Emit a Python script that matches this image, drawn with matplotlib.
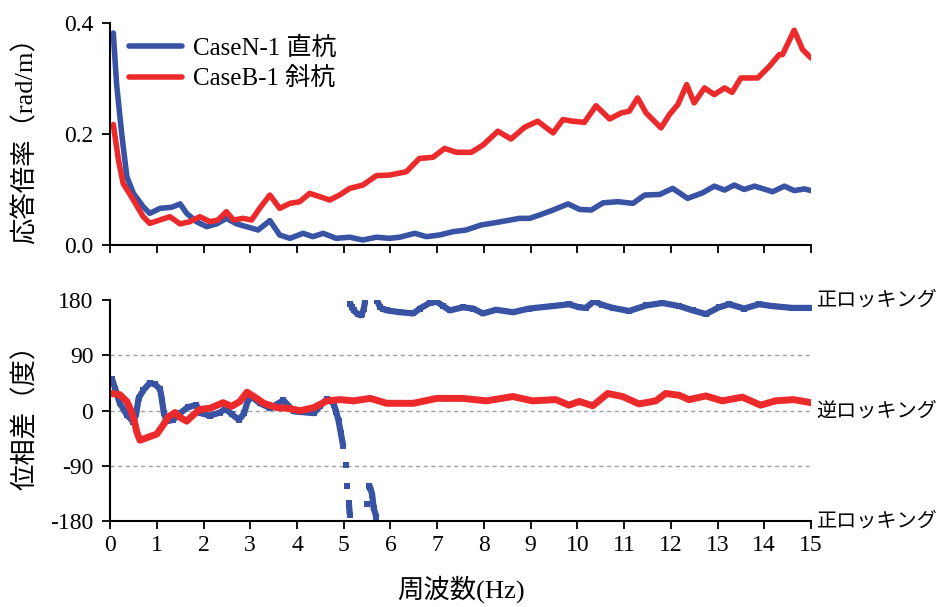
import numpy as np
import matplotlib
matplotlib.use("Agg")
import matplotlib.pyplot as plt

plt.rcParams["font.family"] = ["Liberation Serif", "Noto Sans CJK JP"]
plt.rcParams.update({"font.size": 17})
plt.rcParams["axes.unicode_minus"] = False

blue = "#3953a4"
red = "#ec2a2b"

# response magnitude (top panel)
amp_n_freq = [0.07, 0.14, 0.25, 0.36, 0.5, 0.71, 0.85, 1.07, 1.32, 1.5, 1.64, 1.85,
              2.07, 2.28, 2.49, 2.71, 2.92, 3.17, 3.42, 3.63, 3.85, 4.13, 4.34, 4.56,
              4.84, 5.13, 5.41, 5.7, 5.98, 6.2, 6.52, 6.77, 7.05, 7.34, 7.62, 7.94,
              8.23, 8.5, 8.76, 8.98, 9.19, 9.48, 9.8, 10.05, 10.3, 10.55, 10.87, 11.19,
              11.44, 11.76, 12.04, 12.36, 12.68, 12.93, 13.15, 13.36, 13.57, 13.79,
              14.18, 14.43, 14.64, 14.86, 15.0]
amp_n = [0.382, 0.29, 0.2, 0.123, 0.093, 0.069, 0.057, 0.066, 0.068, 0.074, 0.057, 0.042,
         0.033, 0.038, 0.048, 0.038, 0.033, 0.027, 0.044, 0.018, 0.012, 0.021, 0.015, 0.021,
         0.012, 0.014, 0.009, 0.014, 0.012, 0.014, 0.021, 0.015, 0.018, 0.024, 0.027, 0.036,
         0.040, 0.044, 0.048, 0.048, 0.054, 0.063, 0.074, 0.064, 0.063, 0.076, 0.078, 0.075,
         0.090, 0.091, 0.102, 0.084, 0.094, 0.106, 0.099, 0.108, 0.100, 0.106,
         0.096, 0.106, 0.098, 0.101, 0.098]

amp_b_freq = [0.07, 0.18, 0.28, 0.5, 0.71, 0.85, 1.03, 1.28, 1.5, 1.71, 1.92, 2.14, 2.31,
              2.49, 2.64, 2.85, 3.03, 3.2, 3.42, 3.63, 3.85, 4.06, 4.27, 4.49, 4.7, 4.91,
              5.13, 5.41, 5.7, 5.98, 6.34, 6.62, 6.91, 7.16, 7.41, 7.73, 7.98, 8.3, 8.58,
              8.87, 9.15, 9.48, 9.69, 9.9, 10.15, 10.4, 10.69, 10.94, 11.11, 11.29, 11.47,
              11.79, 11.97, 12.15, 12.34, 12.5, 12.72, 12.93, 13.15, 13.31, 13.5, 13.86,
              14.11, 14.32, 14.39, 14.64, 14.82, 15.0]
amp_b = [0.217, 0.153, 0.111, 0.081, 0.051, 0.039, 0.044, 0.051, 0.038, 0.042, 0.051, 0.042,
         0.045, 0.06, 0.045, 0.048, 0.045, 0.066, 0.09, 0.066, 0.075, 0.078, 0.093, 0.087,
         0.081, 0.09, 0.102, 0.108, 0.125, 0.126, 0.132, 0.156, 0.158, 0.174, 0.167, 0.167,
         0.18, 0.205, 0.191, 0.212, 0.223, 0.202, 0.226, 0.223, 0.221, 0.251, 0.227, 0.238,
         0.241, 0.265, 0.238, 0.211, 0.235, 0.253, 0.289, 0.256, 0.283, 0.271, 0.283, 0.275,
         0.301, 0.301, 0.322, 0.343, 0.343, 0.387, 0.352, 0.337]

# phase difference (bottom panel)
ph_n_freq = [0.04, 0.11, 0.21, 0.36, 0.5, 0.56, 0.61, 0.71, 0.85, 0.96, 1.07, 1.11, 1.15,
             1.21, 1.35, 1.5, 1.67, 1.85, 1.94, 2.14, 2.35, 2.47, 2.61, 2.76, 2.87, 2.95,
             3.04, 3.21, 3.43, 3.71, 3.93, 4.07, 4.36, 4.5, 4.64, 4.72, 4.79, 4.84, 4.89,
             4.94, 4.99, 5.04, 5.07, 5.11, 5.13,
             5.14, 5.18, 5.21, 5.3, 5.36, 5.39, 5.43, 5.46,
             5.5, 5.54, 5.57, 5.61, 5.64, 5.7,
             5.72, 5.78, 5.85, 5.92, 6.21, 6.49, 6.63, 6.84, 6.99, 7.13, 7.27, 7.55, 7.77,
             7.98, 8.26, 8.62, 8.97, 9.47, 9.82, 10.04, 10.18, 10.36, 10.53, 10.76, 11.11,
             11.47, 11.82, 12.18, 12.47, 12.75, 13.03, 13.25, 13.57, 13.89, 14.17, 14.6, 15.0]
ph_n = [52, 36, 12, -7, -18, -5, 20, 33, 45, 43, 35, 18, -3,
        -17, -15, -4, 6, 9, -4, -8, -3, 3, -6, -15, -4, 17,
        22, 12, 4, 17, -1, -2, -4, 8, 19, 17, 10, -2, -16,
        -37, -58, -88, -122, -150, -169,
        174, 168, 163, 157, 155, 157, 166, 178,
        -151, -122, -125, -137, -158, -173,
        178, 168, 165, 163, 160, 158, 166, 175, 177, 170, 163, 168, 166,
        158, 164, 160, 166, 170, 173, 168, 167, 178, 172, 167, 162,
        171, 175, 170, 163, 157, 168, 173, 166, 173, 170, 167, 167]

ph_b_freq = [0.04, 0.21, 0.36, 0.46, 0.53, 0.57, 0.64, 0.82, 1.0, 1.14, 1.25, 1.39, 1.5,
             1.64, 1.78, 1.92, 2.14, 2.42, 2.6, 2.78, 2.93, 3.1, 3.29, 3.57, 3.79, 4.07,
             4.36, 4.64, 4.93, 5.21, 5.57, 5.92, 6.49, 6.99, 7.55, 8.05, 8.62, 9.04, 9.54,
             9.82, 10.04, 10.33, 10.65, 10.97, 11.32, 11.68, 11.89, 12.18, 12.39, 12.75,
             13.1, 13.53, 13.92, 14.24, 14.63, 15.0]
ph_b = [28, 26, 15, -2, -20, -34, -48, -43, -38, -23, -10, -3, -11,
        -17, -7, 2, 4, 13, 7, 15, 30, 22, 12, 5, 4, 0,
        5, 16, 18, 16, 20, 12, 12, 20, 20, 16, 23, 16, 18,
        9, 15, 8, 28, 23, 11, 16, 28, 25, 18, 24,
        16, 22, 9, 16, 18, 13]

fig = plt.figure(figsize=(9.47, 6.07), dpi=100)
ax1 = fig.add_axes([0.1162, 0.5964, 0.7402, 0.3657])
ax2 = fig.add_axes([0.1162, 0.1409, 0.7402, 0.365])

ax1.plot(amp_n_freq, amp_n, color=blue, lw=4, solid_capstyle="round", label="CaseN-1 直杭")
ax1.plot(amp_b_freq, amp_b, color=red, lw=4, solid_capstyle="round", label="CaseB-1 斜杭")
ax1.set_xlim(0, 15)
ax1.set_ylim(0, 0.4)
ax1.set_yticks([0, 0.2, 0.4])
ax1.set_yticklabels(["0.0", "0.2", "0.4"])
ax1.set_xticks(range(16))
ax1.tick_params(labelbottom=False)
ax1.set_ylabel("応答倍率（rad/m）", fontsize=19)
ax1.legend(loc="upper left", bbox_to_anchor=(-0.005, 1.04), frameon=False, fontsize=18,
           handlelength=2.1, handletextpad=0.45, labelspacing=0.3)

# blue phase: connect neighbours, break where the curve jumps
f = np.array(ph_n_freq)
d = np.array(ph_n, dtype=float)
jump = np.abs(np.diff(d)) > 25
fl, dl = [], []
for i in range(len(f)):
    fl.append(f[i]); dl.append(d[i])
    if i < len(f) - 1 and jump[i]:
        fl.append(np.nan); dl.append(np.nan)
ax2.plot(fl, dl, color=blue, lw=4.5, solid_capstyle="butt")
ax2.plot(f, d, "s", color=blue, markersize=5, markeredgewidth=0)
ax2.plot(ph_b_freq, ph_b, color=red, lw=5, solid_capstyle="round")

for yv in [-90, 0, 90]:
    ax2.axhline(yv, color="#a0a0a0", lw=1, ls=(0, (3, 2.5)), zorder=0)
ax2.set_xlim(0, 15)
ax2.set_ylim(-180, 180)
ax2.set_yticks([-180, -90, 0, 90, 180])
ax2.set_xticks(range(16))
ax2.set_ylabel("位相差（度）", fontsize=19)
ax2.set_xlabel("周波数(Hz)", fontsize=19, labelpad=14)

for y, s in [(180, "正ロッキング"), (0, "逆ロッキング"), (-180, "正ロッキング")]:
    ax2.text(15.12, y, s, fontsize=14.5, va="center", ha="left", clip_on=False,
             family=["Noto Sans CJK JP"])

for ax in (ax1, ax2):
    ax.spines["top"].set_visible(False)
    ax.spines["right"].set_visible(False)
    ax.spines["left"].set_linewidth(1.5)
    ax.spines["bottom"].set_linewidth(1.5)
    ax.tick_params(direction="out", length=6, width=1.3, labelsize=17)
    ax.tick_params(axis="y", pad=6)

ax1.yaxis.set_label_coords(-0.103, 0.5)
ax2.yaxis.set_label_coords(-0.103, 0.5)

fig.savefig("out.png", dpi=100)
